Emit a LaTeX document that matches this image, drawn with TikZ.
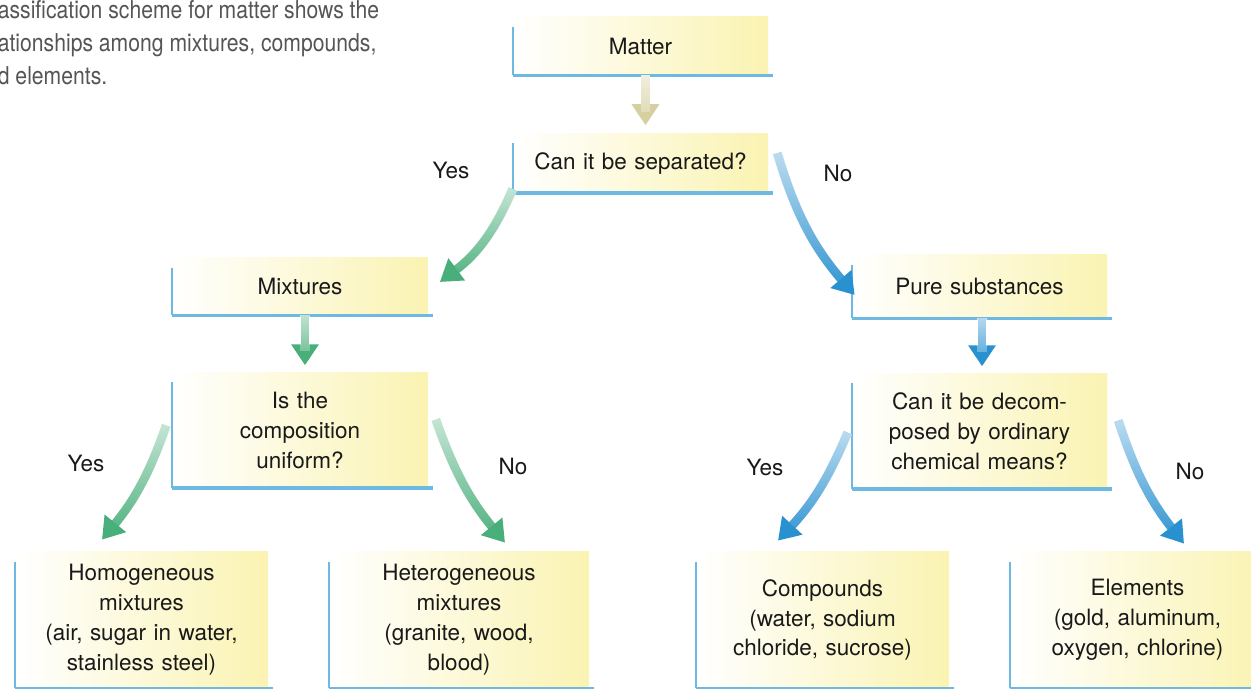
\documentclass[tikz,border=0pt]{standalone}
\usepackage{fontspec}
\setmainfont{TeX Gyre Heros}
\newfontfamily\capfont[FakeStretch=0.86]{TeX Gyre Heros}
\usepackage{xcolor}
\usepackage{tikz}
\usetikzlibrary{arrows.meta, positioning, fadings}
\definecolor{boxyellow}{RGB}{250,243,178}
\definecolor{rimblue}{RGB}{110,185,225}
\definecolor{arrgreen}{RGB}{72,174,122}
\definecolor{arrblue}{RGB}{42,145,208}
\definecolor{arrsand}{RGB}{214,208,160}
\definecolor{textgray}{RGB}{85,85,85}
\tikzfading[name=whiten, top color=transparent!30, bottom color=transparent!100]
\tikzstyle{box} = [minimum width=5.1cm, minimum height=1.16cm, text width=4.9cm, align=center, inner sep=0pt, left color=white, right color=boxyellow, text=black!90, font=\fontsize{12.8}{17}\selectfont]
\tikzstyle{lbl} = [text=black!90, font=\fontsize{12.8}{17}\selectfont]
\tikzstyle{fatarrow} = [line width=5pt, -{Triangle[width=15pt,length=12pt]}, postaction={draw=white, line width=5.4pt, -, shorten >=12pt, path fading=whiten}]

\begin{document}
\begin{tikzpicture}
        \useasboundingbox (0,0) rectangle (25.02,13.78);
        \fill[white] (0,0) rectangle (25.02,13.78);

        % Caption (cut at the left edge)
        \node[anchor=north west, inner sep=0pt, align=left, text=textgray, font=\capfont\fontsize{14}{18.7}\selectfont] (caption) at (-0.05,13.77) {assification scheme for matter shows the\\ationships among mixtures, compounds,\\d elements.};

        % Top: Matter
        \node[box] (matter) at (12.81,12.86) {Matter};
        \node[box, minimum height=1.18cm, below=1.16cm of matter] (sep) {Can it be separated?};

        % Middle: Mixtures and Pure substances
        \node[box, minimum height=1.14cm] (mix) at (6.0,8.05) {Mixtures};
        \node[box, minimum height=1.26cm] (pure) at (19.59,8.05) {Pure substances};
        \node[box, minimum height=2.3cm, below=1.14cm of mix] (uni) {Is the\\composition\\uniform?};
        \node[box, minimum height=2.3cm, below=1.1cm of pure] (dec) {Can it be decom-\\posed by ordinary\\chemical means?};

        % Bottom: the four kinds
        \node[box, minimum width=5.06cm, minimum height=2.72cm] (homog) at (2.83,1.38) {Homogeneous\\mixtures\\(air, sugar in water,\\stainless steel)};
        \node[box, minimum width=5.2cm, minimum height=2.72cm] (heter) at (9.18,1.38) {Heterogeneous\\mixtures\\(granite, wood,\\blood)};
        \node[box, minimum width=5.06cm, minimum height=2.72cm] (comp) at (16.45,1.38) {Compounds\\(water, sodium\\chloride, sucrose)};
        \node[box, minimum height=2.72cm] (elem) at (22.75,1.38) {Elements\\(gold, aluminum,\\oxygen, chlorine)};

        % Blue rims on the left and bottom sides
        \foreach \n in {matter,sep,mix,pure,uni,dec,homog,heter,comp,elem}{
            \draw[rimblue, line width=1pt] ([yshift=-2mm]\n.north west) -- (\n.south west);
            \draw[rimblue, line width=1.8pt] (\n.south west) -- ([xshift=1mm]\n.south east);
        }

        % Yes / No labels
        \node[lbl] (yes1) at (9.02,10.38) {Yes};
        \node[lbl] (no1) at (16.76,10.32) {No};
        \node[lbl] (yes2) at (1.72,4.52) {Yes};
        \node[lbl] (no2) at (10.26,4.46) {No};
        \node[lbl] (yes3) at (15.3,4.44) {Yes};
        \node[lbl] (no3) at (23.8,4.36) {No};

        % Arrows
        \draw[fatarrow, arrsand, shorten >=1.6mm] ([xshift=1mm]matter.south) -- ([xshift=1mm]sep.north);
        \draw[fatarrow, arrgreen, shorten >=1.4mm] ([xshift=1mm]mix.south) -- ([xshift=1mm]uni.north);
        \draw[fatarrow, arrblue, shorten >=1.4mm] ([xshift=0.5mm]pure.south) -- ([xshift=0.5mm]dec.north);
        \draw[fatarrow, arrgreen] ([yshift=0.8mm]sep.south west) to[bend left=15] ([xshift=2.4mm,yshift=0.9mm]mix.east);
        \draw[fatarrow, arrblue] ([xshift=1.8mm,yshift=2mm]sep.east) to[bend right=12] ([xshift=0.6mm,yshift=-1.7mm]pure.west);
        \draw[fatarrow, arrgreen] ([xshift=-1.2mm,yshift=0.9mm]uni.west) to[bend left=10] ([xshift=-7.9mm,yshift=2.4mm]homog.north);
        \draw[fatarrow, arrgreen] ([xshift=1.6mm,yshift=2.1mm]uni.east) to[bend right=10] ([xshift=9.2mm,yshift=1.8mm]heter.north);
        \draw[fatarrow, arrblue] ([xshift=-0.8mm,yshift=-0.3mm]dec.west) to[bend left=10] ([xshift=-8.9mm,yshift=2.2mm]comp.north);
        \draw[fatarrow, arrblue] ([xshift=2.2mm,yshift=2.1mm]dec.east) to[bend right=10] ([xshift=9.3mm,yshift=1.6mm]elem.north);
\end{tikzpicture}
\end{document}
